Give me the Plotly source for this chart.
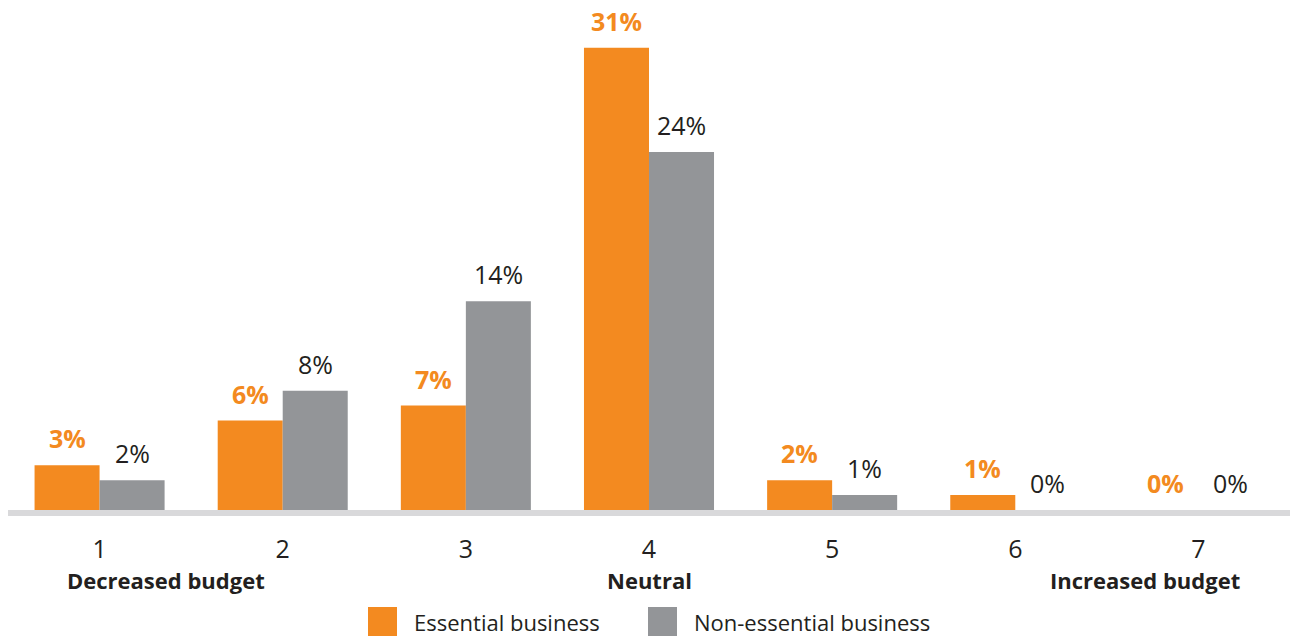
import plotly.graph_objects as go

# Survey scale 1..7 (decreased budget -> increased budget)
scale = [1, 2, 3, 4, 5, 6, 7]
essential = [3, 6, 7, 31, 2, 1, 0]
non_essential = [2, 8, 14, 24, 1, 0, 0]
series_names = ["Essential business", "Non-essential business"]
end_labels = ["Decreased budget", "Neutral", "Increased budget"]
end_label_pos = [1.36, 4, 6.71]

ORANGE = "#F38A20"
GREY = "#939598"
INK = "#231F20"
FONT = "Open Sans"
BARGAP = 0.29
half = (1 - BARGAP) / 4  # centre offset of each bar inside its group

fig = go.Figure()
fig.add_trace(go.Bar(x=scale, y=essential, name=series_names[0],
                     marker=dict(color=ORANGE, line=dict(width=0)), showlegend=False))
fig.add_trace(go.Bar(x=scale, y=non_essential, name=series_names[1],
                     marker=dict(color=GREY, line=dict(width=0)), showlegend=False))

# value labels above each bar
for xv, v in zip(scale, essential):
    fig.add_annotation(x=xv - half, y=v, text=f"<b>{v}%</b>", showarrow=False,
                       yanchor="bottom", yshift=8,
                       font=dict(family=FONT, size=25, color=ORANGE))
for xv, v in zip(scale, non_essential):
    fig.add_annotation(x=xv + half, y=v, text=f"{v}%", showarrow=False,
                       yanchor="bottom", yshift=8,
                       font=dict(family=FONT, size=25, color=INK))

# bold captions under the scale ends and middle
for xv, t in zip(end_label_pos, end_labels):
    fig.add_annotation(x=xv, y=0, yref="paper", text=f"<b>{t}</b>", showarrow=False,
                       yanchor="middle", yshift=-70,
                       font=dict(family=FONT, size=22, color=INK))

# legend swatches and names
legend_items = [(series_names[0], ORANGE, 368), (series_names[1], GREY, 648)]
for name, col, px in legend_items:
    x0 = (px - 8) / 1282
    x1 = (px + 29 - 8) / 1282
    fig.add_shape(type="rect", xref="paper", yref="paper",
                  x0=x0, x1=x1, y0=-(636 - 510) / 510, y1=-(607 - 510) / 510,
                  fillcolor=col, line=dict(width=0))
    fig.add_annotation(x=(px + 44 - 8) / 1282, xref="paper", xanchor="left",
                       y=-(622 - 510) / 510, yref="paper", yanchor="middle",
                       text=name, showarrow=False,
                       font=dict(family=FONT, size=22, color=INK))

fig.update_layout(
    width=1290, height=637,
    margin=dict(l=8, r=0, t=0, b=127),
    barmode="group", bargap=BARGAP, bargroupgap=0,
    plot_bgcolor="white", paper_bgcolor="white",
    font=dict(family=FONT, color=INK),
)
fig.update_xaxes(range=[0.5, 7.5], tickvals=scale, ticktext=[str(s) for s in scale],
                 showgrid=False, zeroline=False, showline=True,
                 linecolor="#D9D9DB", linewidth=6, ticks="",
                 ticklabelstandoff=12,
                 tickfont=dict(family=FONT, size=25, color=INK))
fig.update_yaxes(range=[0, 34.2], visible=False, showgrid=False, zeroline=False)

fig.write_html("out.html")
